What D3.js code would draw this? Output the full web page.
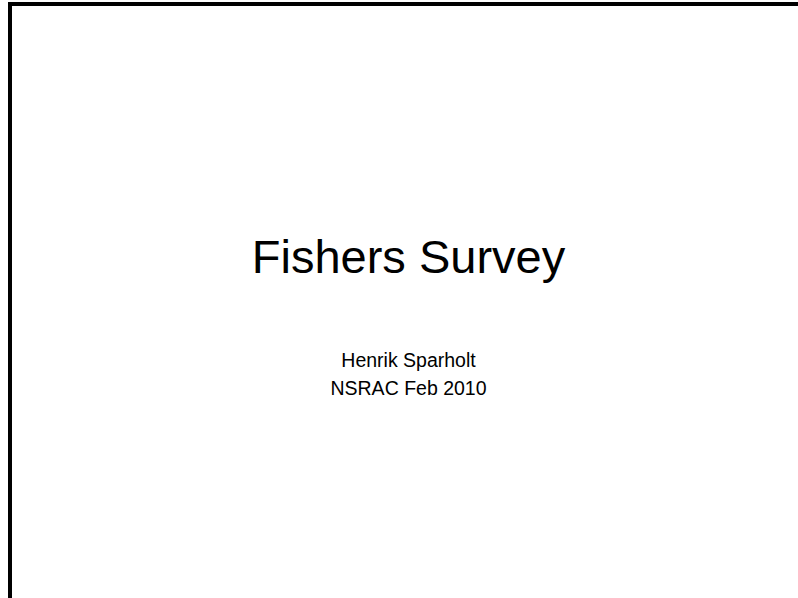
<!DOCTYPE html>
<html>
<head>
<meta charset="utf-8">
<script src="https://cdn.jsdelivr.net/npm/d3@7"></script>
<style>
    body { margin: 0; background: #fff; }
    svg text { font-family: "Liberation Sans", Arial, sans-serif; fill: #000; }
</style>
</head>
<body>
<svg id="slide"></svg>
<script>
// Slide texts
let titleLines = ["Fishers Survey"];
let subtitleLines = ["Henrik Sparholt", "NSRAC Feb 2010"];

let config = {
    'svg': {width: 798, height: 598},
    'frame': {x: 10, y: 4, stroke: 4},
    'title': {size: 47, baseline: 273},
    'subtitle': {size: 19.5, baseline: 367, step: 28},
    'centerX': 408.5
};

let svg = d3.select("#slide")
    .attr("width", config.svg.width)
    .attr("height", config.svg.height);

// Slide frame: only the top and left edges show
let frame = svg.append("g").attr("class", "frame");
frame.append("path")
    .attr("d", "M" + config.frame.x + "," + config.svg.height +
        "V" + config.frame.y + "H" + config.svg.width)
    .attr("fill", "none")
    .attr("stroke", "#000")
    .attr("stroke-width", config.frame.stroke)
    .attr("stroke-linecap", "square");

// Title
svg.append("g").attr("class", "title")
    .selectAll("text")
    .data(titleLines)
    .enter()
    .append("text")
    .attr("x", config.centerX)
    .attr("y", (d, i) => config.title.baseline + i * config.title.size * 1.2)
    .attr("text-anchor", "middle")
    .style("font-size", config.title.size + "px")
    .text(d => d);

// Subtitle
svg.append("g").attr("class", "subtitle")
    .selectAll("text")
    .data(subtitleLines)
    .enter()
    .append("text")
    .attr("x", config.centerX)
    .attr("y", (d, i) => config.subtitle.baseline + i * config.subtitle.step)
    .attr("text-anchor", "middle")
    .style("font-size", config.subtitle.size + "px")
    .text(d => d);
</script>
</body>
</html>
